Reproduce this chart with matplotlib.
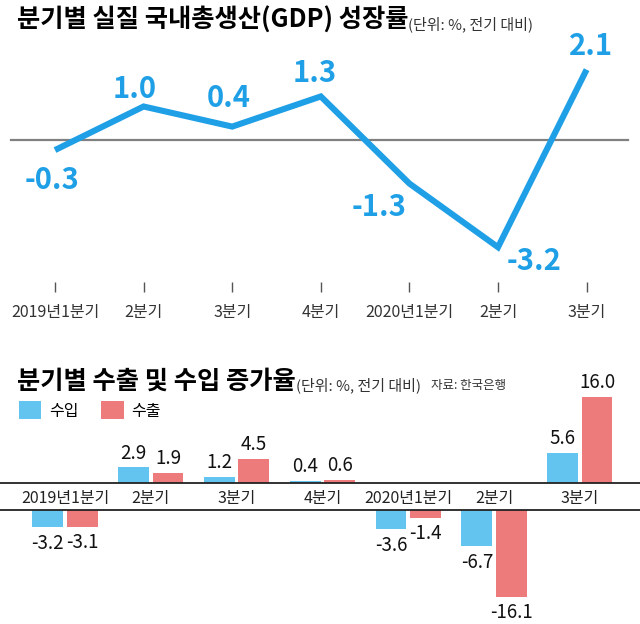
import matplotlib
matplotlib.use('Agg')
import matplotlib.pyplot as plt

plt.rcParams['font.family'] = ['Noto Sans CJK KR', 'DejaVu Sans']

# 데이터
quarters = ['2019년1분기', '2분기', '3분기', '4분기', '2020년1분기', '2분기', '3분기']
gdp = [-0.3, 1.0, 0.4, 1.3, -1.3, -3.2, 2.1]
imports = [-3.2, 2.9, 1.2, 0.4, -3.6, -6.7, 5.6]   # 수입
exports = [-3.1, 1.9, 4.5, 0.6, -1.4, -16.1, 16.0]  # 수출

# 라벨 위치 (픽셀 오프셋)
gdp_offsets = [(-3, -30), (-9, 17), (-3, 29), (-6, 23), (-30, -23), (36, -14), (4, 24)]

LINE_BLUE = '#1e9fe6'
IMP_BLUE = '#62c4ef'
EXP_RED = '#ee7b7c'

W, H = 640, 624
fig = plt.figure(figsize=(W / 100, H / 100), dpi=100)


def px_axes(left, top, right, bottom):
    return fig.add_axes([left / W, 1 - bottom / H, (right - left) / W, (bottom - top) / H])


# ---- 위: GDP 성장률 ----
x = list(range(len(quarters)))
x0, dx = 55, 88.6
zero_y, py = 140, 33.5
top, bot = 30, 292
ax1 = px_axes(0, top, W, bot)
ax1.set_xlim(-x0 / dx, (W - x0) / dx)
ax1.set_ylim(-(bot - zero_y) / py, (zero_y - top) / py)
ax1.axhline(0, xmin=11 / W, xmax=628 / W, color='#808080', lw=1.6, zorder=1)
ax1.plot(x, gdp, color=LINE_BLUE, lw=4.4, solid_capstyle='butt', solid_joinstyle='miter', zorder=2)
for xi, v, (ox, oy) in zip(x, gdp, gdp_offsets):
    ax1.annotate(f'{v:.1f}', (xi, v), xytext=(ox, oy), textcoords='offset pixels',
                 ha='center', va='center', fontsize=21, weight='black', color=LINE_BLUE)
ax1.set_xticks(x)
ax1.set_xticklabels(quarters, fontsize=11.5, color='#333333')
ax1.tick_params(axis='x', direction='in', length=7, width=1, color='#555555', pad=9)
ax1.set_yticks([])
for s in ax1.spines.values():
    s.set_visible(False)
ax1.patch.set_alpha(0)

t1 = fig.text(17 / W, 1 - 20 / H, '분기별 실질 국내총생산(GDP) 성장률', fontsize=18.2,
              weight='black', va='center', ha='left')
fig.canvas.draw()
ax1.annotate('(단위: %, 전기 대비)', xy=(1, 0.05), xycoords=t1, va='bottom', ha='left',
             fontsize=10.8, color='#333333', annotation_clip=False)

# ---- 아래: 수출입 증가율 ----
gx0, gdx = 65, 85.8
pb = 5.4
band_top, band_bot = 483, 510
bw = 0.36
off = 0.2

ax2 = px_axes(0, 370, W, band_top)
ax3 = px_axes(0, band_bot, W, H)
for a in (ax2, ax3):
    a.set_xlim(-gx0 / gdx, (W - gx0) / gdx)
    a.set_yticks([])
    for s in a.spines.values():
        s.set_visible(False)
    a.patch.set_alpha(0)
ax2.set_ylim(0, (band_top - 370) / pb)
ax3.set_ylim(-(H - band_bot) / pb, 0)

xi_imp = [i - off for i in x]
xi_exp = [i + off for i in x]
b_imp = ax2.bar(xi_imp, imports, bw, color=IMP_BLUE, label='수입')
b_exp = ax2.bar(xi_exp, exports, bw, color=EXP_RED, label='수출')
ax3.bar(xi_imp, imports, bw, color=IMP_BLUE)
ax3.bar(xi_exp, exports, bw, color=EXP_RED)

ax2.spines['bottom'].set_visible(True)
ax2.spines['bottom'].set_linewidth(1.3)
ax2.spines['bottom'].set_color('#222222')
ax3.spines['top'].set_visible(True)
ax3.spines['top'].set_linewidth(1.3)
ax3.spines['top'].set_color('#222222')

ax2.set_xticks(x)
ax2.set_xticklabels(quarters, fontsize=11.5, color='#222222')
ax2.tick_params(axis='x', length=0, pad=5)
ax3.set_xticks([])

for xs, vals in ((xi_imp, imports), (xi_exp, exports)):
    for xv, v in zip(xs, vals):
        if v >= 0:
            ax2.annotate(f'{v:.1f}', (xv, v), xytext=(0, 14), textcoords='offset pixels',
                         ha='center', va='center', fontsize=13.5, weight='medium',
                         color='#111111', annotation_clip=False)
        else:
            ax3.annotate(f'{v:.1f}', (xv, v), xytext=(0, -16), textcoords='offset pixels',
                         ha='center', va='center', fontsize=13.5, weight='medium',
                         color='#111111', annotation_clip=False)

t2 = fig.text(17 / W, 1 - 381 / H, '분기별 수출 및 수입 증가율', fontsize=18.2,
              weight='black', va='center', ha='left')
fig.canvas.draw()
t3 = ax2.annotate('(단위: %, 전기 대비)', xy=(1, 0.05), xycoords=t2, va='bottom', ha='left',
                  fontsize=10.8, color='#333333', annotation_clip=False)
fig.canvas.draw()
ax2.annotate('자료: 한국은행', xy=(1, 0.1), xycoords=t3, xytext=(10, 0),
             textcoords='offset pixels', va='bottom', ha='left',
             fontsize=9, color='#333333', annotation_clip=False)

fig.legend(handles=[b_imp, b_exp], labels=['수입', '수출'], loc='upper left',
           bbox_to_anchor=(19 / W, 1 - 401 / H), ncol=2, frameon=False,
           fontsize=11.5, handlelength=1.4, handleheight=1.4, handletextpad=0.5,
           columnspacing=1.4, borderpad=0, borderaxespad=0)

fig.savefig('out.png', dpi=100)
